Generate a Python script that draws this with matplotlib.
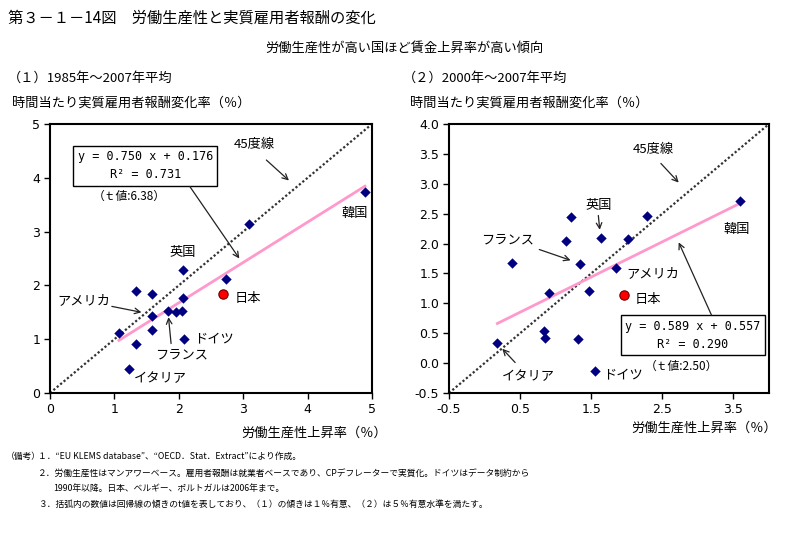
import matplotlib
matplotlib.use("Agg")
import matplotlib.pyplot as plt
import numpy as np

plt.rcParams['font.family'] = ['Noto Sans CJK JP', 'DejaVu Sans']

# ---------------- data ----------------
# (1) 1985-2007 average
x1 = [4.89, 3.09, 2.07, 2.73, 1.34, 1.58, 2.07, 1.59, 1.83, 1.96, 2.05, 1.07, 1.59, 1.34, 2.08, 1.23]
y1 = [3.73, 3.15, 2.28, 2.12, 1.89, 1.84, 1.76, 1.44, 1.53, 1.50, 1.52, 1.12, 1.17, 0.92, 1.01, 0.44]
japan1 = (2.68, 1.84)
slope1, intercept1 = 0.750, 0.176
r2_1, t1 = 0.731, 6.38

# (2) 2000-2007 average
x2 = [3.59, 2.28, 1.21, 1.14, 1.64, 2.02, 0.38, 1.34, 1.85, 0.91, 1.47, 0.84, 0.85, 1.32, 0.18, 1.56]
y2 = [2.71, 2.46, 2.44, 2.04, 2.09, 2.08, 1.68, 1.66, 1.59, 1.18, 1.20, 0.53, 0.42, 0.40, 0.33, -0.14]
japan2 = (1.96, 1.14)
slope2, intercept2 = 0.589, 0.557
r2_2, t2 = 0.290, 2.50

xticks1 = [0, 1, 2, 3, 4, 5]
yticks1 = [0, 1, 2, 3, 4, 5]
xticks2 = [-0.5, 0.5, 1.5, 2.5, 3.5]
yticks2 = [-0.5, 0.0, 0.5, 1.0, 1.5, 2.0, 2.5, 3.0, 3.5, 4.0]

W, H = 803, 536
fig = plt.figure(figsize=(W / 100, H / 100), dpi=100)


def fx(px):
    return px / W


def fy(py):
    return 1 - py / H


ax1 = fig.add_axes([fx(50), fy(393), fx(372) - fx(50), fy(124) - fy(393)])
ax2 = fig.add_axes([fx(449), fy(393), fx(769) - fx(449), fy(124) - fy(393)])

NAVY = '#000080'
PINK = '#FF99CC'
mono = 'DejaVu Sans Mono'


def style(ax, xt, yt, xl, yl, fmt):
    ax.set_xlim(*xl)
    ax.set_ylim(*yl)
    ax.set_xticks(xt)
    ax.set_yticks(yt)
    ax.set_xticklabels([fmt(v) for v in xt], fontsize=9, family='DejaVu Sans')
    ax.set_yticklabels([fmt(v) for v in yt], fontsize=9, family='DejaVu Sans')
    for s in ax.spines.values():
        s.set_linewidth(1.5)
        s.set_color('black')
    ax.tick_params(direction='out', length=4, width=1, pad=3)


def draw(ax, xs, ys, jp, slope, intercept, lo, hi):
    ax.plot([lo, hi], [lo, hi], linestyle=(0, (1, 1)), color='#333333', linewidth=1.6, zorder=2)
    xr = np.array([min(xs), max(xs)])
    ax.plot(xr, slope * xr + intercept, color=PINK, linewidth=2, zorder=3)
    ax.scatter(xs, ys, marker='D', s=28, color=NAVY, zorder=4, linewidths=0)
    ax.scatter([jp[0]], [jp[1]], marker='o', s=45, color='#FF0000', edgecolors='#660000',
               linewidths=0.8, zorder=5)


arrow = dict(arrowstyle='->', color='#222222', linewidth=0.9, shrinkA=0, shrinkB=0)
lab = dict(fontsize=9.5, ha='center', va='center')

# ---- panel 1 ----
style(ax1, xticks1, yticks1, (0, 5), (0, 5), lambda v: f"{v:g}")
draw(ax1, x1, y1, japan1, slope1, intercept1, 0, 5)
ax1.text(3.18, 4.61, '45度線', **lab)
ax1.annotate('', xy=(3.71, 3.95), xytext=(3.36, 4.33), arrowprops=arrow)
ax1.text(1.48, 4.22, f'y = {slope1:.3f} x + {intercept1:.3f}\nR² = {r2_1:.3f}', family=mono,
         fontsize=8.5, ha='center', va='center', linespacing=1.5,
         bbox=dict(boxstyle='square,pad=0.35', facecolor='white', edgecolor='black', linewidth=1))
ax1.text(1.23, 3.66, f'（ｔ値:{t1:.2f}）', fontsize=8.5, ha='center', va='center')
ax1.annotate('', xy=(2.94, 2.50), xytext=(2.17, 3.84), arrowprops=arrow)
ax1.text(4.73, 3.33, '韓国', **lab)
ax1.text(2.06, 2.61, '英国', **lab)
ax1.text(0.52, 1.71, 'アメリカ', **lab)
ax1.annotate('', xy=(1.42, 1.50), xytext=(0.96, 1.61), arrowprops=arrow)
ax1.text(3.07, 1.76, '日本', **lab)
ax1.text(2.55, 1.00, 'ドイツ', **lab)
ax1.text(2.04, 0.70, 'フランス', **lab)
ax1.annotate('', xy=(1.84, 1.41), xytext=(1.88, 0.92), arrowprops=arrow)
ax1.text(1.71, 0.27, 'イタリア', **lab)

# ---- panel 2 ----
style(ax2, xticks2, yticks2, (-0.5, 4.0), (-0.5, 4.0), lambda v: f"{v:.1f}".replace('−', '-'))
draw(ax2, x2, y2, japan2, slope2, intercept2, -0.5, 4.0)
ax2.text(2.37, 3.58, '45度線', **lab)
ax2.annotate('', xy=(2.73, 3.02), xytext=(2.48, 3.34), arrowprops=arrow)
ax2.text(1.61, 2.64, '英国', **lab)
ax2.annotate('', xy=(1.62, 2.23), xytext=(1.60, 2.47), arrowprops=arrow)
ax2.text(3.55, 2.24, '韓国', **lab)
ax2.text(0.32, 2.06, 'フランス', **lab)
ax2.annotate('', xy=(1.21, 1.72), xytext=(0.77, 1.90), arrowprops=arrow)
ax2.text(2.36, 1.49, 'アメリカ', **lab)
ax2.text(2.29, 1.06, '日本', **lab)
ax2.text(2.93, 0.47, f'y = {slope2:.3f} x + {intercept2:.3f}\nR² = {r2_2:.3f}', family=mono,
         fontsize=8.5, ha='center', va='center', linespacing=1.5,
         bbox=dict(boxstyle='square,pad=0.35', facecolor='white', edgecolor='black', linewidth=1))
ax2.annotate('', xy=(2.73, 2.02), xytext=(3.19, 0.806), arrowprops=arrow)
ax2.text(2.77, -0.06, f'（ｔ値:{t2:.2f}）', fontsize=8.5, ha='center', va='center')
ax2.text(1.95, -0.19, 'ドイツ', **lab)
ax2.text(0.61, -0.23, 'イタリア', **lab)
ax2.annotate('', xy=(0.25, 0.24), xytext=(0.43, 0.01), arrowprops=arrow)

# ---- figure texts ----
fig.text(fx(8), fy(18), '第３－１－14図　労働生産性と実質雇用者報酬の変化', fontsize=11, ha='left', va='center')
fig.text(fx(404), fy(48), '労働生産性が高い国ほど賃金上昇率が高い傾向', fontsize=9.5, ha='center', va='center')
fig.text(fx(8), fy(78), '（１）1985年～2007年平均', fontsize=9.5, ha='left', va='center')
fig.text(fx(12), fy(103), '時間当たり実質雇用者報酬変化率（％）', fontsize=9.5, ha='left', va='center')
fig.text(fx(403), fy(78), '（２）2000年～2007年平均', fontsize=9.5, ha='left', va='center')
fig.text(fx(410), fy(103), '時間当たり実質雇用者報酬変化率（％）', fontsize=9.5, ha='left', va='center')
fig.text(fx(387), fy(433), '労働生産性上昇率（％）', fontsize=9.5, ha='right', va='center')
fig.text(fx(777), fy(428), '労働生産性上昇率（％）', fontsize=9.5, ha='right', va='center')

nfs = 6.3
fig.text(fx(6), fy(456), '（備考）', fontsize=nfs, ha='left', va='center')
fig.text(fx(38), fy(456), '１．“EU KLEMS database”、“OECD．Stat．Extract”により作成。', fontsize=nfs, ha='left', va='center')
fig.text(fx(38), fy(474), '２．労働生産性はマンアワーベース。雇用者報酬は就業者ベースであり、CPデフレーターで実質化。ドイツはデータ制約から',
         fontsize=nfs, ha='left', va='center')
fig.text(fx(53), fy(489), '1990年以降。日本、ベルギー、ポルトガルは2006年まで。', fontsize=nfs, ha='left', va='center')
fig.text(fx(38), fy(504), '３．括弧内の数値は回帰線の傾きのt値を表しており、（１）の傾きは１％有意、（２）は５％有意水準を満たす。',
         fontsize=nfs, ha='left', va='center')

fig.savefig('out.png', dpi=100)
